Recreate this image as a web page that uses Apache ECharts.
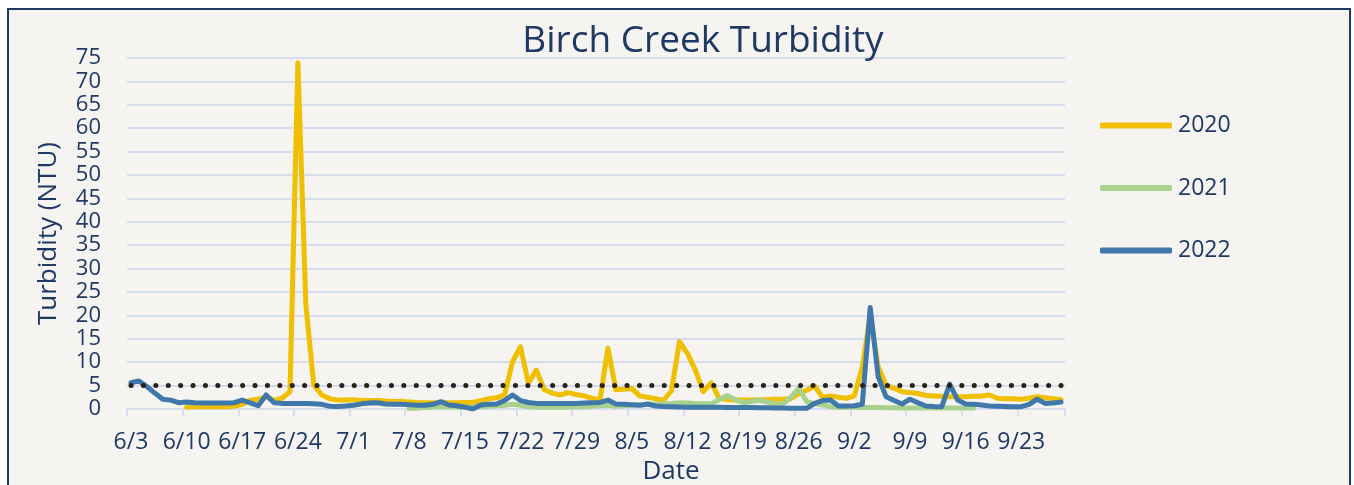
<!DOCTYPE html>
<html>
<head>
<meta charset="utf-8">
<script src="https://cdn.jsdelivr.net/npm/echarts@6/dist/echarts.min.js"></script>
<style>
  html, body { margin: 0; padding: 0; background: #ffffff; }
  #chart { width: 1354px; height: 485px; }
</style>
</head>
<body>
<div id="chart"></div>
<script>
// ---- Data ----
const categories = [
  '6/3','6/4','6/5','6/6','6/7','6/8','6/9','6/10','6/11','6/12','6/13','6/14','6/15','6/16','6/17','6/18','6/19','6/20','6/21','6/22','6/23','6/24','6/25','6/26','6/27','6/28','6/29','6/30',
  '7/1','7/2','7/3','7/4','7/5','7/6','7/7','7/8','7/9','7/10','7/11','7/12','7/13','7/14','7/15','7/16','7/17','7/18','7/19','7/20','7/21','7/22','7/23','7/24','7/25','7/26','7/27','7/28','7/29','7/30','7/31',
  '8/1','8/2','8/3','8/4','8/5','8/6','8/7','8/8','8/9','8/10','8/11','8/12','8/13','8/14','8/15','8/16','8/17','8/18','8/19','8/20','8/21','8/22','8/23','8/24','8/25','8/26','8/27','8/28','8/29','8/30','8/31',
  '9/1','9/2','9/3','9/4','9/5','9/6','9/7','9/8','9/9','9/10','9/11','9/12','9/13','9/14','9/15','9/16','9/17','9/18','9/19','9/20','9/21','9/22','9/23','9/24','9/25','9/26','9/27','9/28'
];

const yTicks = [0,5,10,15,20,25,30,35,40,45,50,55,60,65,70,75];

const data2020 = [
  null,null,null,null,null,null,null,
  0.4,0.5,0.5,0.5,0.5,0.5,0.6,1.0,1.9,2.1,2.6,1.8,2.3,3.7,74,22.2,5.1,3.0,2.2,1.9,1.9,2.0,1.8,1.8,1.8,1.7,1.6,1.6,
  1.5,1.4,1.35,1.35,1.35,1.35,1.35,1.4,1.4,1.8,2.2,2.4,3.0,10.1,13.3,5.5,8.3,4.1,3.4,3.0,3.5,3.1,2.8,2.3,1.9,
  13.0,4.1,4.2,4.4,2.8,2.5,2.2,1.9,3.9,14.4,11.9,8.3,3.7,5.6,2.3,2.0,1.9,1.9,1.9,2.0,2.0,2.1,2.1,2.2,3.3,4.0,4.9,
  2.5,2.8,2.5,2.3,2.8,9.0,20.0,9.0,5.0,4.4,3.7,3.5,3.3,2.9,2.8,2.7,2.6,2.6,2.6,2.7,2.8,3.0,2.3,2.2,2.2,2.1,2.3,2.6,2.4,2.2,2.0
];

const data2021 = [
  null,null,null,null,null,null,null,null,null,null,null,null,null,null,null,null,null,null,null,null,
  null,null,null,null,null,null,null,null,null,null,null,null,null,null,null,
  0.1,0.2,0.3,0.4,0.5,0.5,0.4,0.4,0.4,0.5,0.6,0.7,0.8,1.0,0.8,0.5,0.4,0.4,0.4,0.4,0.4,0.5,0.5,0.6,0.7,
  0.8,0.6,0.7,0.8,0.9,1.0,1.0,1.1,1.2,1.35,1.3,1.2,1.1,1.1,2.0,2.9,2.0,1.35,1.6,1.9,1.5,1.07,1.07,2.5,4.4,
  1.6,1.1,0.85,0.5,0.36,0.36,0.36,0.3,0.3,0.3,0.25,0.25,0.2,0.2,0.2,0.2,0.2,0.2,0.2,0.2,0.2,0.2,
  null,null,null,null,null,null,null,null,null,null,null
];

const data2022 = [
  5.6,6.0,4.8,3.4,2.1,1.9,1.35,1.5,1.35,1.3,1.3,1.3,1.3,1.35,1.9,1.3,0.7,3.0,1.35,1.2,1.2,1.2,1.15,1.1,1.0,0.6,0.55,0.65,
  0.8,1.1,1.3,1.35,1.07,1.0,1.0,0.9,0.8,0.78,1.0,1.57,0.85,0.7,0.4,0.0,0.85,1.0,1.07,1.8,3.0,1.8,1.4,1.2,1.2,1.2,1.2,1.2,1.2,1.3,1.35,
  1.4,1.9,1.07,1.0,0.9,0.78,1.07,0.64,0.55,0.5,0.45,0.4,0.4,0.36,0.35,0.35,0.3,0.3,0.3,0.3,0.25,0.25,0.2,0.2,0.15,0.15,0.14,1.2,1.8,1.9,0.64,0.64,
  0.7,1.0,21.7,6.9,2.6,1.8,1.07,2.1,1.35,0.64,0.55,0.5,5.3,1.9,1.07,1.0,0.85,0.64,0.6,0.55,0.5,0.5,1.0,2.1,1.2,1.3,1.5
];

const thresholdValue = 5;

// ---- Styles ----
const navy = '#1f3864';
const font = 'Open Sans';

const chart = echarts.init(document.getElementById('chart'), null, { renderer: 'canvas' });

const lineSeries = (name, data, color, z) => ({
  name, type: 'line', data,
  showSymbol: false, symbol: 'none',
  connectNulls: false,
  z,
  lineStyle: { color, width: 5, cap: 'round', join: 'round' },
  itemStyle: { color },
  emphasis: { disabled: true }
});

const s2022 = lineSeries('2022', data2022, '#3f78a9', 4);
s2022.markLine = {
  silent: true,
  symbol: ['none', 'none'],
  label: { show: false },
  lineStyle: { color: '#2a2118', width: 5, type: [0.1, 12.3], cap: 'round', dashOffset: -4 },
  data: [{ yAxis: thresholdValue }]
};

chart.setOption({
  animation: false,
  backgroundColor: '#ffffff',
  textStyle: { fontFamily: font },
  graphic: [{
    type: 'rect', z: -10, silent: true,
    shape: { x: 8, y: 9, width: 1342, height: 500 },
    style: { fill: '#f5f4f1', stroke: navy, lineWidth: 2 }
  }],
  title: {
    text: 'Birch Creek Turbidity',
    left: 698, top: 18, textAlign: 'center',
    textStyle: { fontFamily: font, fontSize: 37, fontWeight: 'normal', color: navy }
  },
  legend: {
    orient: 'vertical',
    left: 1100, top: 114, padding: 0,
    itemWidth: 72, itemHeight: 6, itemGap: 39.5,
    icon: 'roundRect',
    data: ['2020', '2021', '2022'],
    textStyle: { fontFamily: font, fontSize: 23, color: navy, padding: [0, 0, 0, 1] }
  },
  grid: { left: 127, right: 289, top: 58, bottom: 76, containLabel: false, outerBoundsMode: 'none' },
  xAxis: {
    type: 'category',
    data: categories,
    boundaryGap: true,
    name: 'Date',
    nameLocation: 'middle',
    nameGap: 44,
    nameTextStyle: { fontFamily: font, fontSize: 26, color: navy, padding: [0, 0, 0, 150] },
    axisLine: { show: true, lineStyle: { color: '#d5deef', width: 2 } },
    axisTick: { show: true, interval: 6, length: 7, lineStyle: { color: '#d5deef', width: 2 } },
    axisLabel: { interval: 6, margin: 22, fontFamily: font, fontSize: 23, color: navy },
    splitLine: { show: false }
  },
  yAxis: {
    type: 'value',
    min: yTicks[0], max: yTicks[yTicks.length - 1], interval: 5,
    name: 'Turbidity (NTU)',
    nameLocation: 'middle',
    nameGap: 65,
    nameTextStyle: { fontFamily: font, fontSize: 26, color: navy },
    axisLine: { show: false },
    axisTick: { show: false },
    axisLabel: { margin: 26, fontFamily: font, fontSize: 22, color: navy },
    splitLine: { show: true, lineStyle: { color: '#d5deef', width: 2 } }
  },
  series: [
    lineSeries('2020', data2020, '#efbf00', 2),
    lineSeries('2021', data2021, '#a8d18d', 3),
    s2022
  ]
});
</script>
</body>
</html>
